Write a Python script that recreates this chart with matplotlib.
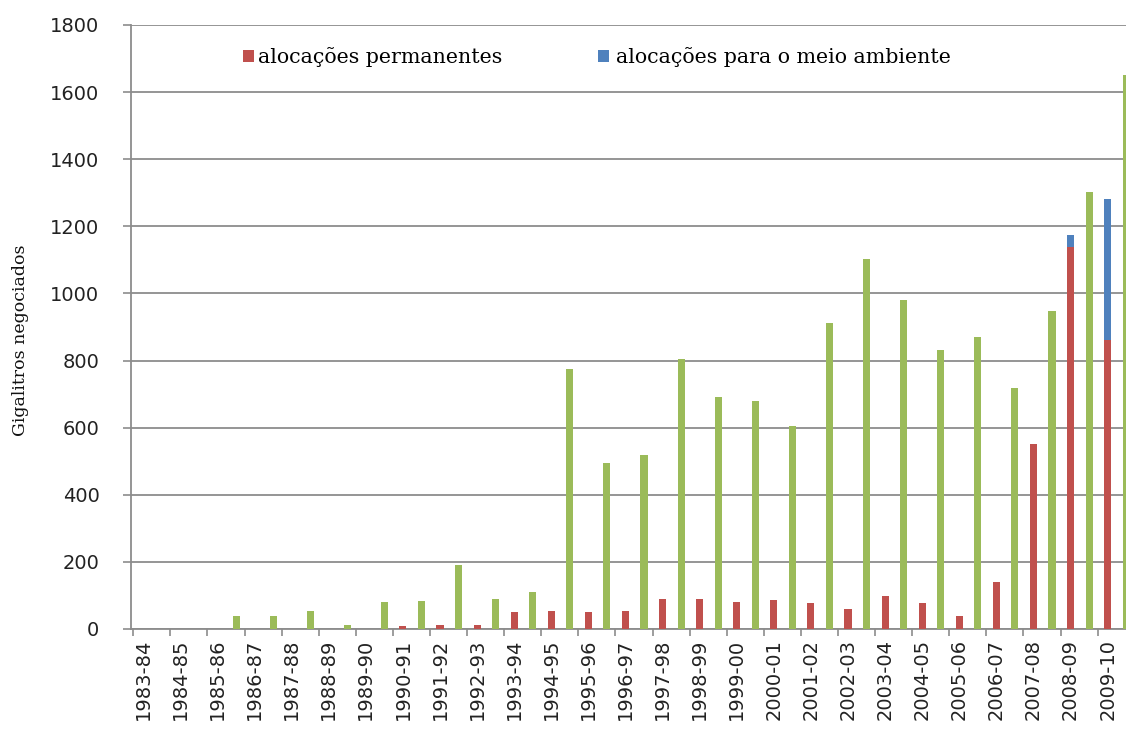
import matplotlib
matplotlib.use("Agg")
import matplotlib.pyplot as plt
import numpy as np
from matplotlib.patches import Patch

categories = ["1983-84", "1984-85", "1985-86", "1986-87", "1987-88", "1988-89",
              "1989-90", "1990-91", "1991-92", "1992-93", "1993-94", "1994-95",
              "1995-96", "1996-97", "1997-98", "1998-99", "1999-00", "2000-01",
              "2001-02", "2002-03", "2003-04", "2004-05", "2005-06", "2006-07",
              "2007-08", "2008-09", "2009-10"]

permanentes = [0, 0, 0, 0, 0, 0, 0, 8, 13, 13, 50, 55, 50, 55, 89, 89, 80, 86,
               77, 61, 97, 76, 40, 141, 550, 1137, 860]
meio_ambiente = [0, 0, 0, 0, 0, 0, 0, 0, 0, 0, 0, 0, 0, 0, 0, 0, 0, 0,
                 0, 0, 0, 0, 0, 0, 0, 38, 421]
temporarias = [0, 0, 39, 39, 55, 12, 79, 84, 191, 89, 109, 775, 495, 520, 805,
               691, 679, 605, 912, 1103, 981, 830, 870, 717, 949, 1303, 1651]

yticks = [0, 200, 400, 600, 800, 1000, 1200, 1400, 1600, 1800]

RED = "#C0504D"
BLUE = "#4F81BD"
GREEN = "#9BBB59"
GRID = "#8c8c8c"

W, H = 1126, 731
fig = plt.figure(figsize=(W / 100, H / 100), dpi=100)

x0 = 143.3
dx = 37.09
xl, xr = -0.32, 26.75
left_px = x0 + xl * dx
right_px = x0 + xr * dx
top_px, bot_px = 25, 629
ax = fig.add_axes([left_px / W, 1 - bot_px / H, (right_px - left_px) / W,
                   (bot_px - top_px) / H])

x = np.arange(len(categories))
bw = 0.19
perm = np.array(permanentes)
amb = np.array(meio_ambiente)
ax.bar(x, perm, width=bw, color=RED, zorder=3)
ax.bar(x, amb, width=bw, bottom=perm, color=BLUE, zorder=3)
ax.bar(x + 0.5, temporarias, width=bw, color=GREEN, zorder=3)

ax.set_xlim(xl, xr)
ax.set_ylim(0, 1800)
ax.set_yticks(yticks)
ax.set_yticklabels([str(v) for v in yticks], fontsize=14, color="#222222")
ax.yaxis.grid(True, color=GRID, linewidth=1.3, zorder=0)
ax.tick_params(axis="y", length=6, width=1.2, color=GRID, pad=17)

ax.set_xticks(x)
ax.set_xticklabels(categories, rotation=90, fontsize=14, color="#222222")
ax.tick_params(axis="x", which="major", length=0, pad=7)
ax.set_xticks(x - 0.27, minor=True)
ax.tick_params(axis="x", which="minor", length=5, width=1.2, color=GRID)

for s in ["top", "right"]:
    ax.spines[s].set_visible(False)
for s in ["left", "bottom"]:
    ax.spines[s].set_color(GRID)
    ax.spines[s].set_linewidth(1.3)


def fx(px):
    return (px - left_px) / (right_px - left_px)


def fy(py):
    return 1 - (py - top_px) / (bot_px - top_px)


leg_font = {"family": "DejaVu Serif", "size": 14.8}
leg1 = ax.legend([Patch(facecolor=RED, edgecolor="none")], ["alocações permanentes"],
                 loc="center left", bbox_to_anchor=(fx(243), fy(57)),
                 frameon=False, handlelength=0.55, handleheight=0.55, handletextpad=0.2,
                 borderaxespad=0, borderpad=0, prop=leg_font)
ax.add_artist(leg1)
ax.legend([Patch(facecolor=BLUE, edgecolor="none")], ["alocações para o meio ambiente"],
          loc="center left", bbox_to_anchor=(fx(598), fy(57)),
          frameon=False, handlelength=0.55, handleheight=0.55, handletextpad=0.35,
          borderaxespad=0, borderpad=0, prop=leg_font)

fig.text(21 / W, 1 - 340 / H, "Gigalitros negociados", rotation=90,
         ha="center", va="center", family="DejaVu Serif", fontsize=12.5, color="#111111")

fig.savefig("out.png", dpi=100)
